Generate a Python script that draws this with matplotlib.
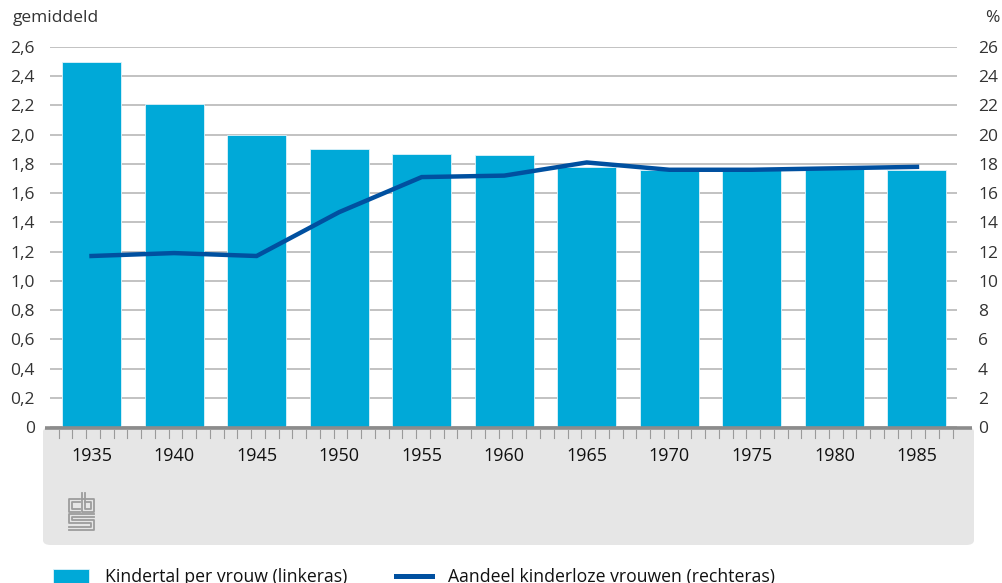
import numpy as np
import matplotlib
matplotlib.use("Agg")
import matplotlib.pyplot as plt
from matplotlib.patches import FancyBboxPatch
from matplotlib.lines import Line2D

# ---- data ----
years = ["1935", "1940", "1945", "1950", "1955", "1960", "1965", "1970", "1975", "1980", "1985"]
kindertal = [2.50, 2.21, 2.00, 1.90, 1.87, 1.86, 1.78, 1.76, 1.76, 1.77, 1.76]
kinderloos_pct = [11.7, 11.9, 11.7, 14.7, 17.1, 17.2, 18.1, 17.6, 17.6, 17.7, 17.8]
left_ticks = [0, 0.2, 0.4, 0.6, 0.8, 1.0, 1.2, 1.4, 1.6, 1.8, 2.0, 2.2, 2.4, 2.6]
left_labels = ["0", "0,2", "0,4", "0,6", "0,8", "1,0", "1,2", "1,4", "1,6", "1,8", "2,0", "2,2", "2,4", "2,6"]
right_ticks = [0, 2, 4, 6, 8, 10, 12, 14, 16, 18, 20, 22, 24, 26]
label_bars = "Kindertal per vrouw (linkeras)"
label_line = "Aandeel kinderloze vrouwen (rechteras)"
left_title = "gemiddeld"
right_title = "%"

plt.rcParams['font.family'] = ['Open Sans', 'DejaVu Sans']
TXT = "#333333"
BAR = "#00a9d8"
LINE = "#0050a0"
PT = 72 / 100  # points per pixel

W, H = 1002, 583
fig = plt.figure(figsize=(W / 100, H / 100), dpi=100)

def fx(px):
    return px / W

def fy(py):
    return 1 - py / H

ax_l, ax_r, ax_t, ax_b = 50, 957, 47, 427
ax = fig.add_axes([fx(ax_l), fy(ax_b), fx(ax_r - ax_l), (ax_b - ax_t) / H])
ax.set_zorder(1)

# grey panel beneath the axis
panel = FancyBboxPatch((fx(43), fy(545)), fx(974 - 43), (545 - 427) / H,
                       boxstyle="round,pad=0,rounding_size=0.008",
                       transform=fig.transFigure, facecolor="#e6e6e6",
                       edgecolor="none", zorder=-1)
fig.patches.append(panel)

x = np.arange(len(years))
bars = ax.bar(x, kindertal, width=0.715, color=BAR, edgecolor="#dff3fa",
              linewidth=0.6, zorder=2, label=label_bars)
ax.set_xlim(-0.503, 10.485)
ax.set_ylim(0, 2.6)
ax.set_yticks(left_ticks)
ax.set_yticklabels(left_labels)
ax.grid(axis="y", color="#b8b8b8", linewidth=1.2, zorder=1)
ax.set_axisbelow(True)
for s in ax.spines.values():
    s.set_visible(False)
ax.tick_params(axis="y", length=0, pad=15 * PT, labelsize=12.5, labelcolor=TXT)
ax.set_xticks(x)
ax.set_xticklabels(years)
ax.tick_params(axis="x", length=0, pad=20 * PT, labelsize=13, labelcolor="#111111")
ax.patch.set_alpha(0)

ax2 = ax.twinx()
ln, = ax2.plot(x, kinderloos_pct, color=LINE, linewidth=3.2, zorder=3,
               solid_joinstyle="miter", label=label_line)
ax2.set_ylim(0, 26)
ax2.set_yticks(right_ticks)
ax2.set_yticklabels([str(t) for t in right_ticks])
ax2.tick_params(axis="y", length=0, pad=21 * PT, labelsize=12.5, labelcolor=TXT)
for s in ax2.spines.values():
    s.set_visible(False)

# minor ruler ticks under the axis
ruler = np.arange(-0.40, 10.50, 1 / 6)
trans = matplotlib.transforms.blended_transform_factory(ax.transData, fig.transFigure)
for r in ruler:
    fig.add_artist(Line2D([r, r], [fy(430), fy(438)], transform=trans,
                          color="#9a9a9a", linewidth=0.8, zorder=5))
# axis line
fig.add_artist(Line2D([fx(45), fx(972)], [fy(428), fy(428)], color="#8c8c8c",
                      linewidth=2.6, zorder=6, solid_capstyle="butt"))

# axis titles
fig.text(fx(13), fy(18), left_title, fontsize=12.5, color=TXT, ha="left", va="center")
fig.text(fx(985), fy(18), right_title, fontsize=12.5, color=TXT, ha="left", va="center")

# CBS logo (simplified)
lg = "#9c9c9c"
def pl(xs, ys):
    fig.add_artist(Line2D([fx(v) for v in xs], [fy(v) for v in ys], color=lg,
                          linewidth=1.3, zorder=5))
# "c"
pl([80, 69, 69, 80], [499, 499, 512, 512])
pl([80, 72, 72, 80], [502, 502, 509, 509])
# "b"
pl([82, 82, 94, 94, 82], [493, 512, 512, 499, 499])
pl([85, 85, 91, 91, 85], [493, 509, 509, 502, 502])
# "s"
pl([94, 69, 69, 91, 91, 69], [514, 514, 523, 523, 527, 527])
pl([94, 72, 72, 94, 94, 69], [517, 517, 520, 520, 530, 530])

# legend
leg = fig.legend(handles=[bars, ln], labels=[label_bars, label_line], ncol=2,
                 loc="upper left", bbox_to_anchor=(fx(53), fy(568)), frameon=False,
                 fontsize=12.7, handlelength=2.05, handleheight=0.8, handletextpad=0.9,
                 columnspacing=2.78, borderpad=0, borderaxespad=0)
for t in leg.get_texts():
    t.set_color("#111111")
for l in leg.get_lines():
    l.set_linewidth(3.6)

fig.savefig("out.png", dpi=100)
